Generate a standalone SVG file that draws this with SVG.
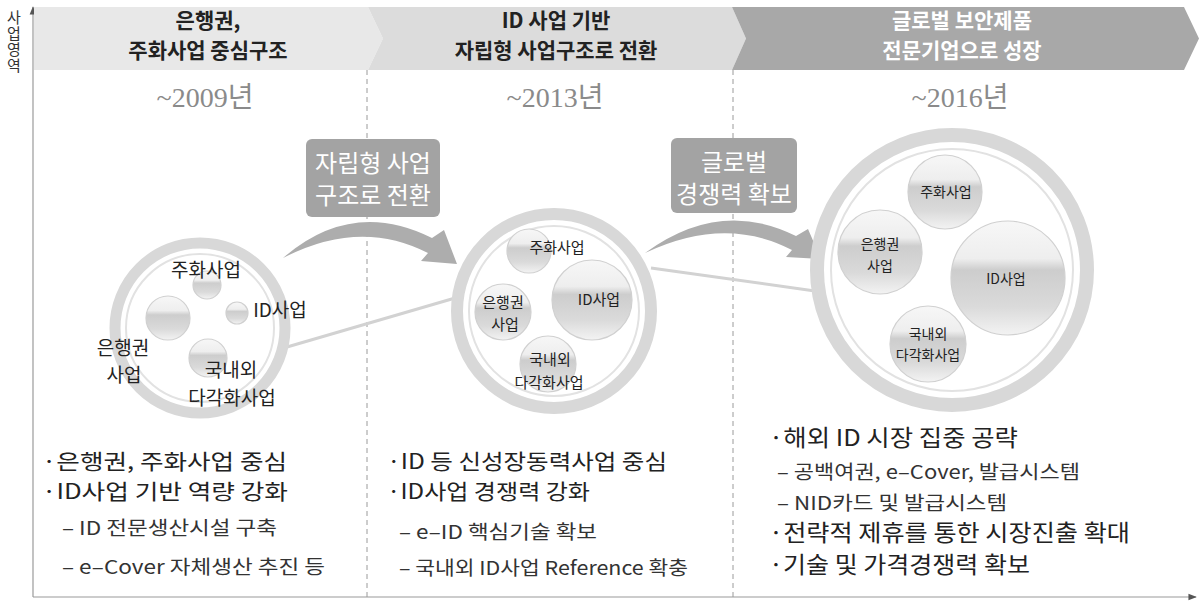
<svg xmlns="http://www.w3.org/2000/svg" width="1201" height="602" viewBox="0 0 1201 602">
<defs>
<style>
.k{font-family:"Noto Sans CJK KR","Noto Sans",sans-serif}
.hd{font-size:21px;font-weight:bold;text-anchor:middle;fill:#222}
.hw{fill:#fff}
.yr{font-family:"Liberation Serif","Noto Sans CJK KR",serif;font-size:28px;fill:#8a8a8a;text-anchor:middle}
.lb{font-size:19px;fill:#222;text-anchor:middle}
.lb2{font-size:15px;fill:#222;text-anchor:middle}
.lb3{font-size:14px;fill:#222;text-anchor:middle}
.bx{font-size:24px;fill:#fff;text-anchor:middle}
.b1{font-size:23px;fill:#222}
.b1s{font-size:21px;fill:#222}
.b2{font-size:19px;fill:#333}
.ring{fill:#fff;stroke:#d8d8d8}
.iring{fill:none;stroke:#e2e2e2;stroke-width:2}
.bub{fill:url(#gb);stroke:#d0d0d0;stroke-width:1.2}
.dash{stroke:#9a9a9a;stroke-width:1;stroke-dasharray:5 4;fill:none}
.ax{stroke:#9a9a9a;stroke-width:1.2;fill:none}
.arr{fill:#adadad}
.thin{stroke:#d2d2d2;stroke-width:3;fill:none}
</style>
<linearGradient id="gb" x1="0" y1="0" x2="0" y2="1">
<stop offset="0" stop-color="#f7f7f7"/>
<stop offset="0.33" stop-color="#eeeeee"/>
<stop offset="0.43" stop-color="#cdcdcd"/>
<stop offset="0.75" stop-color="#dadada"/>
<stop offset="1" stop-color="#f3f3f3"/>
</linearGradient>
<marker id="ah" viewBox="0 0 10 10" refX="9" refY="5" markerWidth="7" markerHeight="7" orient="auto-start-reverse">
<path d="M0 1 L10 5 L0 9 Z" fill="#555"/>
</marker>
</defs>

<g id="axes">
<line class="ax" x1="33" y1="597" x2="33" y2="7" marker-end="url(#ah)"/>
<line class="ax" x1="33" y1="597" x2="1196" y2="597" marker-end="url(#ah)"/>
<text class="k" x="14" y="10" font-size="15" fill="#333" letter-spacing="1" style="writing-mode:vertical-rl">사업영역</text>
</g>

<g id="banner1">
<path d="M34 7 H368 L383 38.5 L368 70 H34 Z" fill="#e8e8e8"/>
<text class="k hd" x="208" y="28">은행권,</text>
<text class="k hd" x="208" y="58">주화사업 중심구조</text>
</g>
<g id="banner2">
<path d="M368 7 H732 L746 38.5 L732 70 H368 L383 38.5 Z" fill="#dcdcdc"/>
<text class="k hd" x="556" y="28">ID 사업 기반</text>
<text class="k hd" x="556" y="58">자립형 사업구조로 전환</text>
</g>
<g id="banner3">
<path d="M732 7 H1184 L1199 38.5 L1184 70 H732 L746 38.5 Z" fill="#a8a8a8"/>
<text class="k hd hw" x="962" y="28">글로벌 보안제품</text>
<text class="k hd hw" x="962" y="58">전문기업으로 성장</text>
</g>

<g id="years">
<text class="yr" x="205" y="107">~2009년</text>
<text class="yr" x="555" y="107">~2013년</text>
<text class="yr" x="960" y="107">~2016년</text>
</g>

<g id="dividers">
<line class="dash" x1="367" y1="70" x2="367" y2="597"/>
<line class="dash" x1="733" y1="70" x2="733" y2="597"/>
</g>

<g id="connectors">
<line class="thin" x1="287" y1="347" x2="462" y2="296"/>
<line class="thin" x1="651" y1="268" x2="822" y2="292"/>
<path class="arr" d="M283 258 Q352 198 432 238 L444 230 L457 264 L421 261 L428 253 Q360 218 283 258 Z"/>
<path class="arr" d="M645 253 Q720 198 796 236 L808 229 L821 259 L786 257 L792 250 Q725 215 645 253 Z"/>
</g>

<g id="box1">
<rect x="306" y="139" width="134" height="78" rx="6" fill="#a3a3a3"/>
<text class="k bx" x="373" y="172">자립형 사업</text>
<text class="k bx" x="373" y="204">구조로 전환</text>
</g>
<g id="box2">
<rect x="671" y="138" width="126" height="75" rx="6" fill="#a3a3a3"/>
<text class="k bx" x="734" y="171">글로벌</text>
<text class="k bx" x="734" y="203">경쟁력 확보</text>
</g>

<g id="circle1">
<circle class="ring" cx="200" cy="328" r="85" stroke-width="11"/>
<circle class="iring" cx="200" cy="328" r="74"/>
<circle class="bub" cx="207" cy="285" r="14"/>
<circle class="bub" cx="168" cy="318" r="22"/>
<circle class="bub" cx="237" cy="313" r="11"/>
<circle class="bub" cx="208" cy="358" r="19"/>
<text class="k lb" x="206" y="277">주화사업</text>
<text class="k lb" x="280" y="317">ID사업</text>
<text class="k lb" x="123" y="355">은행권</text>
<text class="k lb" x="124" y="382">사업</text>
<text class="k lb" x="231" y="377">국내외</text>
<text class="k lb" x="232" y="405">다각화사업</text>
</g>

<g id="circle2">
<circle class="ring" cx="554" cy="311" r="97" stroke-width="12"/>
<circle class="iring" cx="554" cy="311" r="85"/>
<circle class="bub" cx="529" cy="251" r="22"/>
<circle class="bub" cx="592" cy="300" r="40"/>
<circle class="bub" cx="503" cy="312" r="28"/>
<circle class="bub" cx="548" cy="364" r="28"/>
<text class="k lb2" x="557" y="253">주화사업</text>
<text class="k lb2" x="599" y="305">ID사업</text>
<text class="k lb2" x="503" y="308">은행권</text>
<text class="k lb2" x="505" y="330">사업</text>
<text class="k lb2" x="550" y="365">국내외</text>
<text class="k lb2" x="549" y="388">다각화사업</text>
</g>

<g id="circle3">
<circle class="ring" cx="952" cy="270" r="135" stroke-width="14"/>
<circle class="iring" cx="952" cy="270" r="121"/>
<circle class="bub" cx="945" cy="192" r="37"/>
<circle class="bub" cx="880" cy="252" r="42"/>
<circle class="bub" cx="1008" cy="278" r="57"/>
<circle class="bub" cx="928" cy="344" r="38"/>
<text class="k lb3" x="946" y="197">주화사업</text>
<text class="k lb3" x="880" y="249">은행권</text>
<text class="k lb3" x="880" y="271">사업</text>
<text class="k lb3" x="1006" y="284">ID사업</text>
<text class="k lb3" x="928" y="339">국내외</text>
<text class="k lb3" x="928" y="360">다각화사업</text>
</g>

<g id="text1">
<text class="k b1s" x="42" y="469" textLength="245" lengthAdjust="spacingAndGlyphs">·은행권, 주화사업 중심</text>
<text class="k b1s" x="42" y="499" textLength="246" lengthAdjust="spacingAndGlyphs">·ID사업 기반 역량 강화</text>
<text class="k b2" x="62" y="535" textLength="215" lengthAdjust="spacingAndGlyphs">– ID 전문생산시설 구축</text>
<text class="k b2" x="62" y="574" textLength="263" lengthAdjust="spacingAndGlyphs">– e–Cover 자체생산 추진 등</text>
</g>
<g id="text2">
<text class="k b1s" x="387" y="469" textLength="280" lengthAdjust="spacingAndGlyphs">·ID 등 신성장동력사업 중심</text>
<text class="k b1s" x="387" y="499" textLength="203" lengthAdjust="spacingAndGlyphs">·ID사업 경쟁력 강화</text>
<text class="k b2" x="399" y="539" textLength="198" lengthAdjust="spacingAndGlyphs">– e–ID 핵심기술 확보</text>
<text class="k b2" x="399" y="575" textLength="289" lengthAdjust="spacingAndGlyphs">– 국내외 ID사업 Reference 확충</text>
</g>
<g id="text3">
<text class="k b1" x="769" y="446" textLength="249" lengthAdjust="spacingAndGlyphs">·해외 ID 시장 집중 공략</text>
<text class="k b2" x="777" y="479" textLength="303" lengthAdjust="spacingAndGlyphs">– 공백여권, e–Cover, 발급시스템</text>
<text class="k b2" x="777" y="510" textLength="230" lengthAdjust="spacingAndGlyphs">– NID카드 및 발급시스템</text>
<text class="k b1" x="769" y="541" textLength="361" lengthAdjust="spacingAndGlyphs">·전략적 제휴를 통한 시장진출 확대</text>
<text class="k b1" x="769" y="573" textLength="261" lengthAdjust="spacingAndGlyphs">·기술 및 가격경쟁력 확보</text>
</g>
</svg>
